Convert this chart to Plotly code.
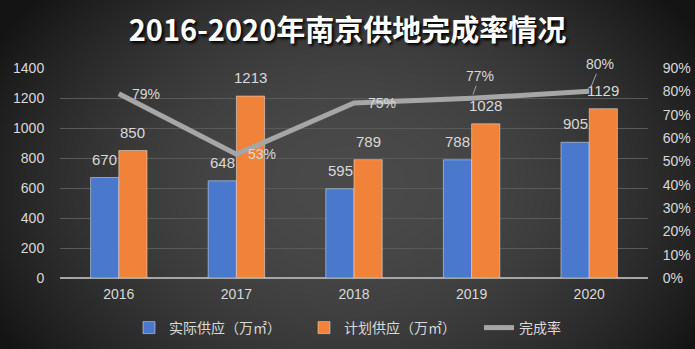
import base64, struct, zlib
import numpy as np
import plotly.graph_objects as go

years = ["2016", "2017", "2018", "2019", "2020"]
actual = [670, 648, 595, 788, 905]
planned = [850, 1213, 789, 1028, 1129]
rate = [0.79, 0.53, 0.75, 0.77, 0.80]
rate_labels = ["79%", "53%", "75%", "77%", "80%"]

W, H = 695, 349
ML, MR, MT, MB = 60, 47, 68, 71
PW, PH = W - ML - MR, H - MT - MB

# radial gradient background image
yy, xx = np.mgrid[0:H, 0:W]
r = np.sqrt(((xx - 350) / 360.0) ** 2 + ((yy - 185) / 260.0) ** 2)
val = np.clip(74 - 42 * r ** 2, 20, 80).astype(np.uint8)
raw = b"".join(b"\x00" + val[i].tobytes() for i in range(H))
def chunk(t, d):
    c = struct.pack(">I", len(d)) + t + d
    return c + struct.pack(">I", zlib.crc32(t + d) & 0xffffffff)
png = b"\x89PNG\r\n\x1a\n" + chunk(b"IHDR", struct.pack(">IIBBBBB", W, H, 8, 0, 0, 0, 0)) \
    + chunk(b"IDAT", zlib.compress(raw, 9)) + chunk(b"IEND", b"")
bg = "data:image/png;base64," + base64.b64encode(png).decode()

txt = "#d9d9d9"
font = "Liberation Sans, Arial, sans-serif"
cjk = "Noto Sans CJK SC, sans-serif"

fig = go.Figure()
fig.add_trace(go.Bar(x=years, y=actual, name="实际供应（万㎡）", marker_color="#4a78cc"))
fig.add_trace(go.Bar(x=years, y=planned, name="计划供应（万㎡）", marker_color="#f0823a"))
fig.add_trace(go.Scatter(x=years, y=rate, name="完成率", yaxis="y2", mode="lines",
                         line=dict(color="#a6a6a6", width=5)))

# bar value labels (category index positions, shifted onto each bar of the group)
for i, (a, p) in enumerate(zip(actual, planned)):
    for v, sh in ((a, -14), (p, 14)):
        fig.add_annotation(x=i, y=v, xref="x", yref="y", text=str(v), showarrow=False,
                           xshift=sh, yshift=8, yanchor="bottom",
                           font=dict(color=txt, size=15, family=font))

offsets = [(27, 0, False), (26, 0, False), (28, 0, False), (8, -22, True), (11, -27, True)]
for i, (yr, lab, (dx, dy, arrow)) in enumerate(zip(rate, rate_labels, offsets)):
    if arrow:
        fig.add_annotation(x=i, y=yr, xref="x", yref="y2", text=lab, showarrow=True,
                           arrowhead=0, arrowwidth=1, arrowcolor="#a6a6a6", ax=dx, ay=dy,
                           standoff=4, font=dict(color=txt, size=14, family=font))
    else:
        fig.add_annotation(x=i, y=yr, xref="x", yref="y2", text=lab, showarrow=False,
                           xshift=dx, font=dict(color=txt, size=14, family=font))

fig.update_layout(
    width=W, height=H, margin=dict(l=ML, r=MR, t=MT, b=MB, autoexpand=False),
    paper_bgcolor="#3a3a3a", plot_bgcolor="rgba(0,0,0,0)",
    barmode="group", bargap=0.52, bargroupgap=0,
    title=dict(text="<b>2016-2020年南京供地完成率情况</b>", x=0.5, xanchor="center",
               y=1 - 31 / H, yanchor="middle",
               font=dict(size=29, color="white", family=cjk, shadow="2px 2px 3px #000")),
    xaxis=dict(type="category", range=[-0.5, 4.5], showgrid=False, showline=False,
               tickfont=dict(color=txt, size=14, family=font),
               ticks="outside", ticklen=3, tickcolor="rgba(0,0,0,0)"),
    yaxis=dict(range=[0, 1400], dtick=200, gridcolor="#5a5a5a", gridwidth=1,
               zeroline=True, zerolinecolor="#a6a6a6", zerolinewidth=2,
               tickfont=dict(color=txt, size=14, family=font),
               ticks="outside", ticklen=12, tickcolor="rgba(0,0,0,0)"),
    yaxis2=dict(range=[0, 0.9], dtick=0.1, tickformat=".0%", overlaying="y", side="right",
                showgrid=False, zeroline=False,
                tickfont=dict(color=txt, size=14, family=font),
                ticks="outside", ticklen=11, tickcolor="rgba(0,0,0,0)"),
    legend=dict(orientation="h", xref="container", x=129 / W, xanchor="left",
                yref="container", y=1 - 312 / H, yanchor="top",
                entrywidth=130, entrywidthmode="pixels",
                font=dict(color=txt, size=14, family=cjk), bgcolor="rgba(0,0,0,0)"),
    images=[dict(source=bg, xref="paper", yref="paper", x=-ML / PW, y=1 + MT / PH,
                 sizex=W / PW, sizey=H / PH, sizing="stretch", layer="below",
                 xanchor="left", yanchor="top")],
)
fig.write_html("out.html")
